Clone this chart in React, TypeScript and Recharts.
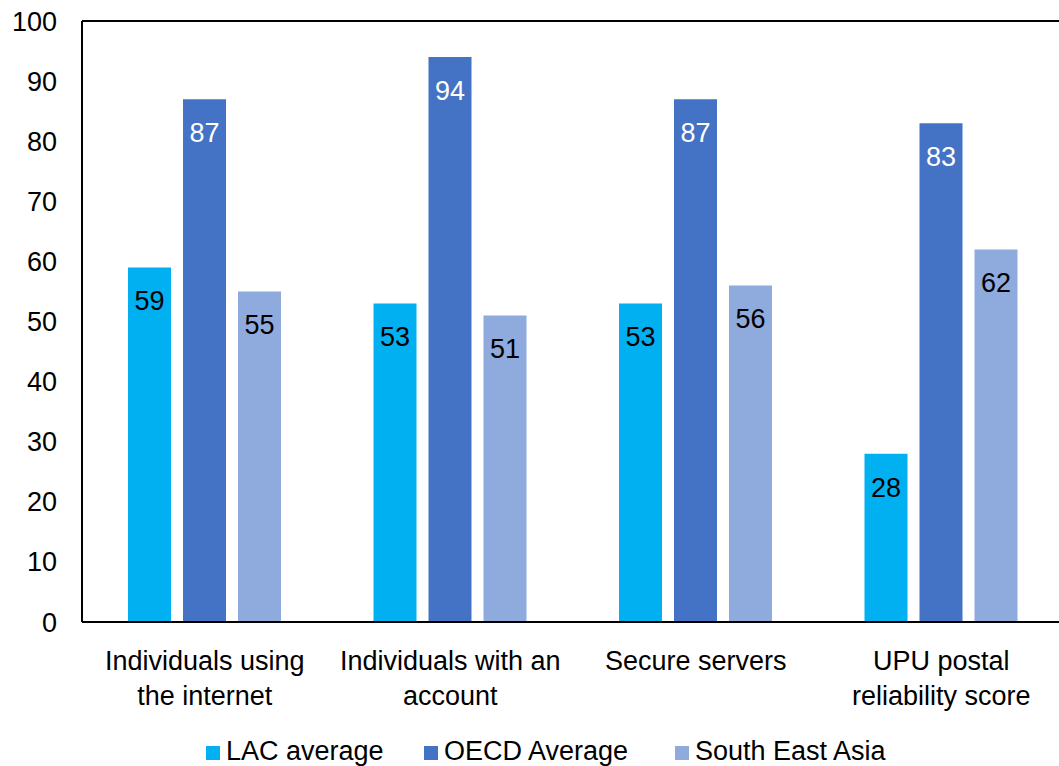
import React from "react";
import { BarChart, Bar, XAxis, YAxis, Legend, LabelList, ReferenceLine } from "recharts";

const categories = ["Individuals using the internet", "Individuals with an account", "Secure servers", "UPU postal reliability score"];
const categoryLines = [["Individuals using", "the internet"], ["Individuals with an", "account"], ["Secure servers"], ["UPU postal", "reliability score"]];
const lacAverage = [59, 53, 53, 28];
const oecdAverage = [87, 94, 87, 83];
const southEastAsia = [55, 51, 56, 62];
const yTicks = [0, 10, 20, 30, 40, 50, 60, 70, 80, 90, 100];

const seriesNames = { lac: "LAC average", oecd: "OECD Average", sea: "South East Asia" };
const colors = { lac: "#00B0F0", oecd: "#4472C4", sea: "#8FAADC" };

const data = categories.map((c, i) => ({
  name: c,
  lac: lacAverage[i],
  oecd: oecdAverage[i],
  sea: southEastAsia[i],
}));

const FONT = "Arial, 'Liberation Sans', sans-serif";
const FS = 27;

const XTick = (props: any) => {
  const { x, y, payload } = props;
  const lines = categoryLines[payload.index] || [payload.value];
  return (
    <g>
      {lines.map((l: string, i: number) => (
        <text key={i} x={x} y={y + 48 + i * 35} textAnchor="middle" fontSize={FS} fontFamily={FONT} fill="#000">
          {l}
        </text>
      ))}
    </g>
  );
};

const makeLabel = (fill: string) => (props: any) => {
  const { x, y, width, value } = props;
  return (
    <text x={x + width / 2} y={y + 43} textAnchor="middle" fontSize={FS} fontFamily={FONT} fill={fill}>
      {value}
    </text>
  );
};

const LegendContent = () => {
  const items = [
    { key: "lac", label: seriesNames.lac, color: colors.lac, w: 218 },
    { key: "oecd", label: seriesNames.oecd, color: colors.oecd, w: 251 },
    { key: "sea", label: seriesNames.sea, color: colors.sea, w: 240 },
  ];
  return (
    <div style={{ display: "flex", alignItems: "center", paddingLeft: 206, height: 30, fontFamily: FONT, fontSize: FS, lineHeight: "30px", color: "#000", whiteSpace: "nowrap" }}>
      {items.map((it) => (
        <div key={it.key} style={{ display: "flex", alignItems: "center", width: it.w }}>
          <span style={{ display: "inline-block", width: 14, height: 14, background: it.color, marginRight: 6, marginTop: 4 }} />
          <span>{it.label}</span>
        </div>
      ))}
    </div>
  );
};

export default function App() {
  return (
    <div style={{ position: "fixed", left: 0, top: 0, width: 1059, height: 766, overflow: "hidden", background: "#fff" }}>
      <BarChart
        width={1070}
        height={766}
        data={data}
        margin={{ top: 21, right: 6, bottom: 0, left: 0 }}
        barSize={43}
        barGap={12}
        barCategoryGap={46}
      >
        <XAxis
          dataKey="name"
          height={114}
          tick={<XTick />}
          tickLine={false}
          tickSize={0}
          tickMargin={0}
          axisLine={{ stroke: "#000", strokeWidth: 2 }}
          interval={0}
        />
        <YAxis
          domain={[0, 100]}
          ticks={yTicks}
          width={82}
          tickLine={false}
          tickSize={0}
          tickMargin={25}
          axisLine={{ stroke: "#000", strokeWidth: 2 }}
          tick={{ fill: "#000", fontSize: FS, fontFamily: FONT }}
          interval={0}
        />
        <ReferenceLine y={100} stroke="#000" strokeWidth={2} />
        <Legend verticalAlign="bottom" content={<LegendContent />} />
        <Bar dataKey="lac" name={seriesNames.lac} fill={colors.lac} isAnimationActive={false}>
          <LabelList dataKey="lac" content={makeLabel("#000")} />
        </Bar>
        <Bar dataKey="oecd" name={seriesNames.oecd} fill={colors.oecd} isAnimationActive={false}>
          <LabelList dataKey="oecd" content={makeLabel("#fff")} />
        </Bar>
        <Bar dataKey="sea" name={seriesNames.sea} fill={colors.sea} isAnimationActive={false}>
          <LabelList dataKey="sea" content={makeLabel("#000")} />
        </Bar>
      </BarChart>
    </div>
  );
}
